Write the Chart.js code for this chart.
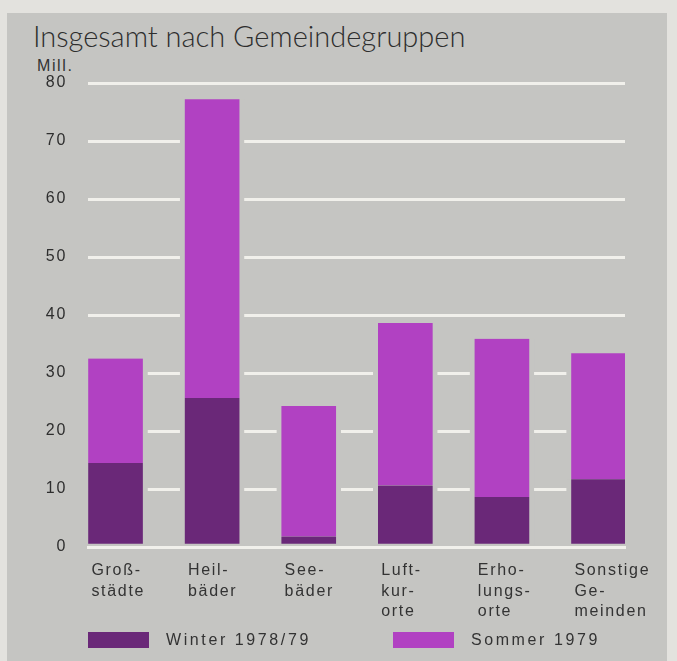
<!DOCTYPE html>
<html lang="de">
<head>
<meta charset="UTF-8" />
<title>Insgesamt nach Gemeindegruppen</title>
<script src="https://cdn.jsdelivr.net/npm/chart.js@4.4.1/dist/chart.umd.min.js"></script>
<style>
  body {
    margin: 0;
    width: 677px;
    height: 661px;
    overflow: hidden;
    position: relative;
    background: #e3e2de;
    font-family: 'Liberation Sans', Arial, sans-serif;
    color: #333;
  }
  .panel { position: absolute; left: 7px; top: 13px; width: 660px; height: 648px; background: #c5c5c2; }
  h1 { position: absolute; left: 33px; top: 22px; margin: 0; font: 300 29px/28px Lato, sans-serif; color: #2e2e2e; }
  .unit { position: absolute; left: 37px; top: 58px; font-size: 16px; line-height: 16px; letter-spacing: 1.6px; }
  #chart { position: absolute; left: 0; top: 0; }
  #legend { position: absolute; left: 88px; top: 632px; display: flex; gap: 82px; font-size: 16px; line-height: 16px; letter-spacing: 2.6px; color: #333; }
  #legend .item { display: flex; align-items: center; }
  #legend .box { display: inline-block; width: 61px; height: 16px; margin-right: 17px; }
</style>
</head>
<body>
  <div class="panel"></div>
  <h1>Insgesamt nach Gemeindegruppen</h1>
  <div class="unit">Mill.</div>
  <canvas id="chart" width="677" height="661"></canvas>
  <div id="legend"></div>

<script>
const categories = [
  ['Groß-', 'städte'],
  ['Heil-', 'bäder'],
  ['See-', 'bäder'],
  ['Luft-', 'kur-', 'orte'],
  ['Erho-', 'lungs-', 'orte'],
  ['Sonstige', 'Ge-', 'meinden']
];
const winter = [14.5, 25.7, 1.8, 10.6, 8.6, 11.7];
const sommer = [18.0, 51.5, 22.5, 28.0, 27.3, 21.7];
const yTicks = [0, 10, 20, 30, 40, 50, 60, 70, 80];

const panel = '#c5c5c2';
const gridWhite = '#f1f0eb';

// canvas letter spacing (the print uses wide tracking)
const spacing = {
  id: 'spacing',
  beforeUpdate(chart) { chart.ctx.letterSpacing = '1.7px'; },
  beforeDraw(chart) { chart.ctx.letterSpacing = '1.7px'; }
};

const htmlLegend = {
  id: 'htmlLegend',
  afterUpdate(chart) {
    const box = document.getElementById('legend');
    box.innerHTML = '';
    chart.data.datasets.forEach(ds => {
      const item = document.createElement('div');
      item.className = 'item';
      const sw = document.createElement('span');
      sw.className = 'box';
      sw.style.background = ds.backgroundColor;
      item.appendChild(sw);
      item.appendChild(document.createTextNode(ds.label));
      box.appendChild(item);
    });
  }
};

const ctx = document.getElementById('chart').getContext('2d');
new Chart(ctx, {
  type: 'bar',
  data: {
    datasets: [
      {
        label: 'Winter 1978/79',
        data: winter.map((v, i) => ({ x: i, y: v })),
        backgroundColor: '#6a2878',
        borderColor: panel,
        borderWidth: { left: 5, right: 5, top: 0, bottom: 2 },
        borderSkipped: false
      },
      {
        label: 'Sommer 1979',
        data: sommer.map((v, i) => ({ x: i, y: v })),
        backgroundColor: '#b141c2',
        borderColor: panel,
        borderWidth: { left: 5, right: 5, top: 0, bottom: 0 },
        borderSkipped: false
      }
    ]
  },
  options: {
    responsive: false,
    animation: false,
    barThickness: 64,
    layout: { padding: { left: 0, top: 83, right: 52, bottom: 0 } },
    plugins: { legend: { display: false }, tooltip: { enabled: false } },
    scales: {
      x: {
        type: 'linear',
        offset: false,
        bounds: 'data',
        min: -0.285,
        max: 5.274,
        stacked: true,
        z: 1,
        grid: { display: false },
        border: { display: true, color: gridWhite, width: 3 },
        afterBuildTicks: s => { s.ticks = categories.map((c, i) => ({ value: i - 0.25 })); },
        afterFit: s => { s.height = 114; },
        ticks: {
          align: 'start',
          autoSkip: false,
          maxRotation: 0,
          padding: 5,
          color: '#333',
          font: { family: "'Liberation Sans', Arial, sans-serif", size: 16, lineHeight: 1.3 },
          callback: (v, i) => categories[i]
        }
      },
      y: {
        stacked: true,
        min: 0,
        max: 80,
        afterBuildTicks: s => { s.ticks = yTicks.map(v => ({ value: v })); },
        afterFit: s => { s.width = 88; },
        grid: { color: gridWhite, lineWidth: 3, drawTicks: false },
        border: { display: false },
        ticks: {
          padding: 21,
          color: '#2e2e2e',
          font: { family: "'Liberation Sans', Arial, sans-serif", size: 16 }
        }
      }
    }
  },
  plugins: [spacing, htmlLegend]
});
</script>
</body>
</html>
